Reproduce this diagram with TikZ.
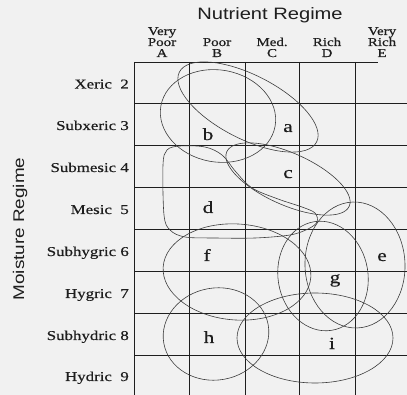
\documentclass[tikz,border=0pt]{standalone}
\usepackage{fontspec}
\setmainfont{Liberation Serif}[FakeStretch=1.25,FakeBold=0.5]
\newfontfamily\hsans{Liberation Sans}[FakeStretch=1.22]
\definecolor{bgc}{RGB}{241,241,241}
\definecolor{ink}{RGB}{30,30,30}
\definecolor{curve}{RGB}{60,60,60}
\tikzset{
  gridline/.style={draw=ink, line width=0.8pt},
  zone/.style={draw=curve, line width=0.6pt},
  rowlab/.style={anchor=base east, inner sep=0pt, text=ink, font=\fontsize{13.5}{14}\selectfont},
  collab/.style={anchor=base, inner sep=0pt, text=ink, font=\fontsize{12}{12}\selectfont},
  zlab/.style={anchor=base, inner sep=0pt, text=ink, font=\fontsize{17}{17}\selectfont},
  title/.style={inner sep=0pt, text=ink}
}
\begin{document}
\begin{tikzpicture}[x=1pt,y=-1pt]
\fill[bgc] (0,0) rectangle (407,395);
\useasboundingbox (0,0) rectangle (407,395);
% grid
\foreach \x in {134,189,245,299,355} \draw[gridline] (\x,62) -- (\x,395);
\draw[gridline] (134,62) -- (378,62);
\foreach \y in {103,145,187,229,271,313,355} \draw[gridline] (134,\y) -- (407,\y);
% titles
\node[title, anchor=base, font=\hsans\fontsize{16.5}{16.5}\selectfont] (nut) at (270,19.5) {Nutrient Regime};
\node[title, rotate=90, font=\hsans\fontsize{15.5}{15.5}\selectfont] (moi) at (20,229) {Moisture Regime};
% column headers
\node[collab] (hA1) at (162,35) {Very};
\node[collab] (hA2) at (162,46) {Poor};
\node[collab] (hA3) at (162,57) {A};
\node[collab] (hB2) at (217,46) {Poor};
\node[collab] (hB3) at (217,57) {B};
\node[collab] (hC2) at (272,46) {Med.};
\node[collab] (hC3) at (272,57) {C};
\node[collab] (hD2) at (327,46) {Rich};
\node[collab] (hD3) at (327,57) {D};
\node[collab] (hE1) at (382,35) {Very};
\node[collab] (hE2) at (382,46) {Rich};
\node[collab] (hE3) at (382,57) {E};
% row labels
\node[rowlab] (r2) at (129,88.5) {Xeric\ \ 2};
\node[rowlab] (r3) at (129,130) {Subxeric 3};
\node[rowlab] (r4) at (129,172) {Submesic 4};
\node[rowlab] (r5) at (129,214) {Mesic\ \ 5};
\node[rowlab] (r6) at (129,256) {Subhygric 6};
\node[rowlab] (r7) at (129,298) {Hygric\ \ 7};
\node[rowlab] (r8) at (129,340) {Subhydric 8};
\node[rowlab] (r9) at (129,381) {Hydric\ \ 9};
% zones
\draw[zone, shift={(248,107)}, rotate=-27] (0,0) ellipse [x radius=77pt, y radius=32pt];
\draw[zone, shift={(218,116)}, rotate=-10] (0,0) ellipse [x radius=58pt, y radius=46pt];
\draw[zone, shift={(288,179)}, rotate=-24] (0,0) ellipse [x radius=67pt, y radius=26pt];
\draw[zone] plot[smooth cycle, tension=0.55] coordinates {
  (163,165) (167,150) (180,146) (205,147) (222,155) (236,172) (252,188)
  (278,199) (302,207) (315,213) (317,222) (308,229) (290,235) (255,238)
  (215,238) (185,237) (170,230) (164,215)};
\draw[zone, shift={(355,265)}, rotate=2] (0,0) ellipse [x radius=50pt, y radius=63pt];
\draw[zone, shift={(323,276)}, rotate=9] (0,0) ellipse [x radius=45pt, y radius=55pt];
\draw[zone, shift={(237,272)}, rotate=-4] (0,0) ellipse [x radius=74pt, y radius=48pt];
\draw[zone, shift={(216,334)}, rotate=10] (0,0) ellipse [x radius=53pt, y radius=46pt];
\draw[zone, shift={(315,338)}] (0,0) ellipse [x radius=78pt, y radius=45pt];
% zone labels
\node[zlab] (la) at (288,132) {a};
\node[zlab] (lb) at (208,140) {b};
\node[zlab] (lc) at (288,178) {c};
\node[zlab] (ld) at (208,213) {d};
\node[zlab] (lf) at (207,261) {f};
\node[zlab] (le) at (382,261) {e};
\node[zlab] (lg) at (335,283) {g};
\node[zlab] (lh) at (209,343) {h};
\node[zlab] (li) at (332,349) {i};
\end{tikzpicture}
\end{document}
